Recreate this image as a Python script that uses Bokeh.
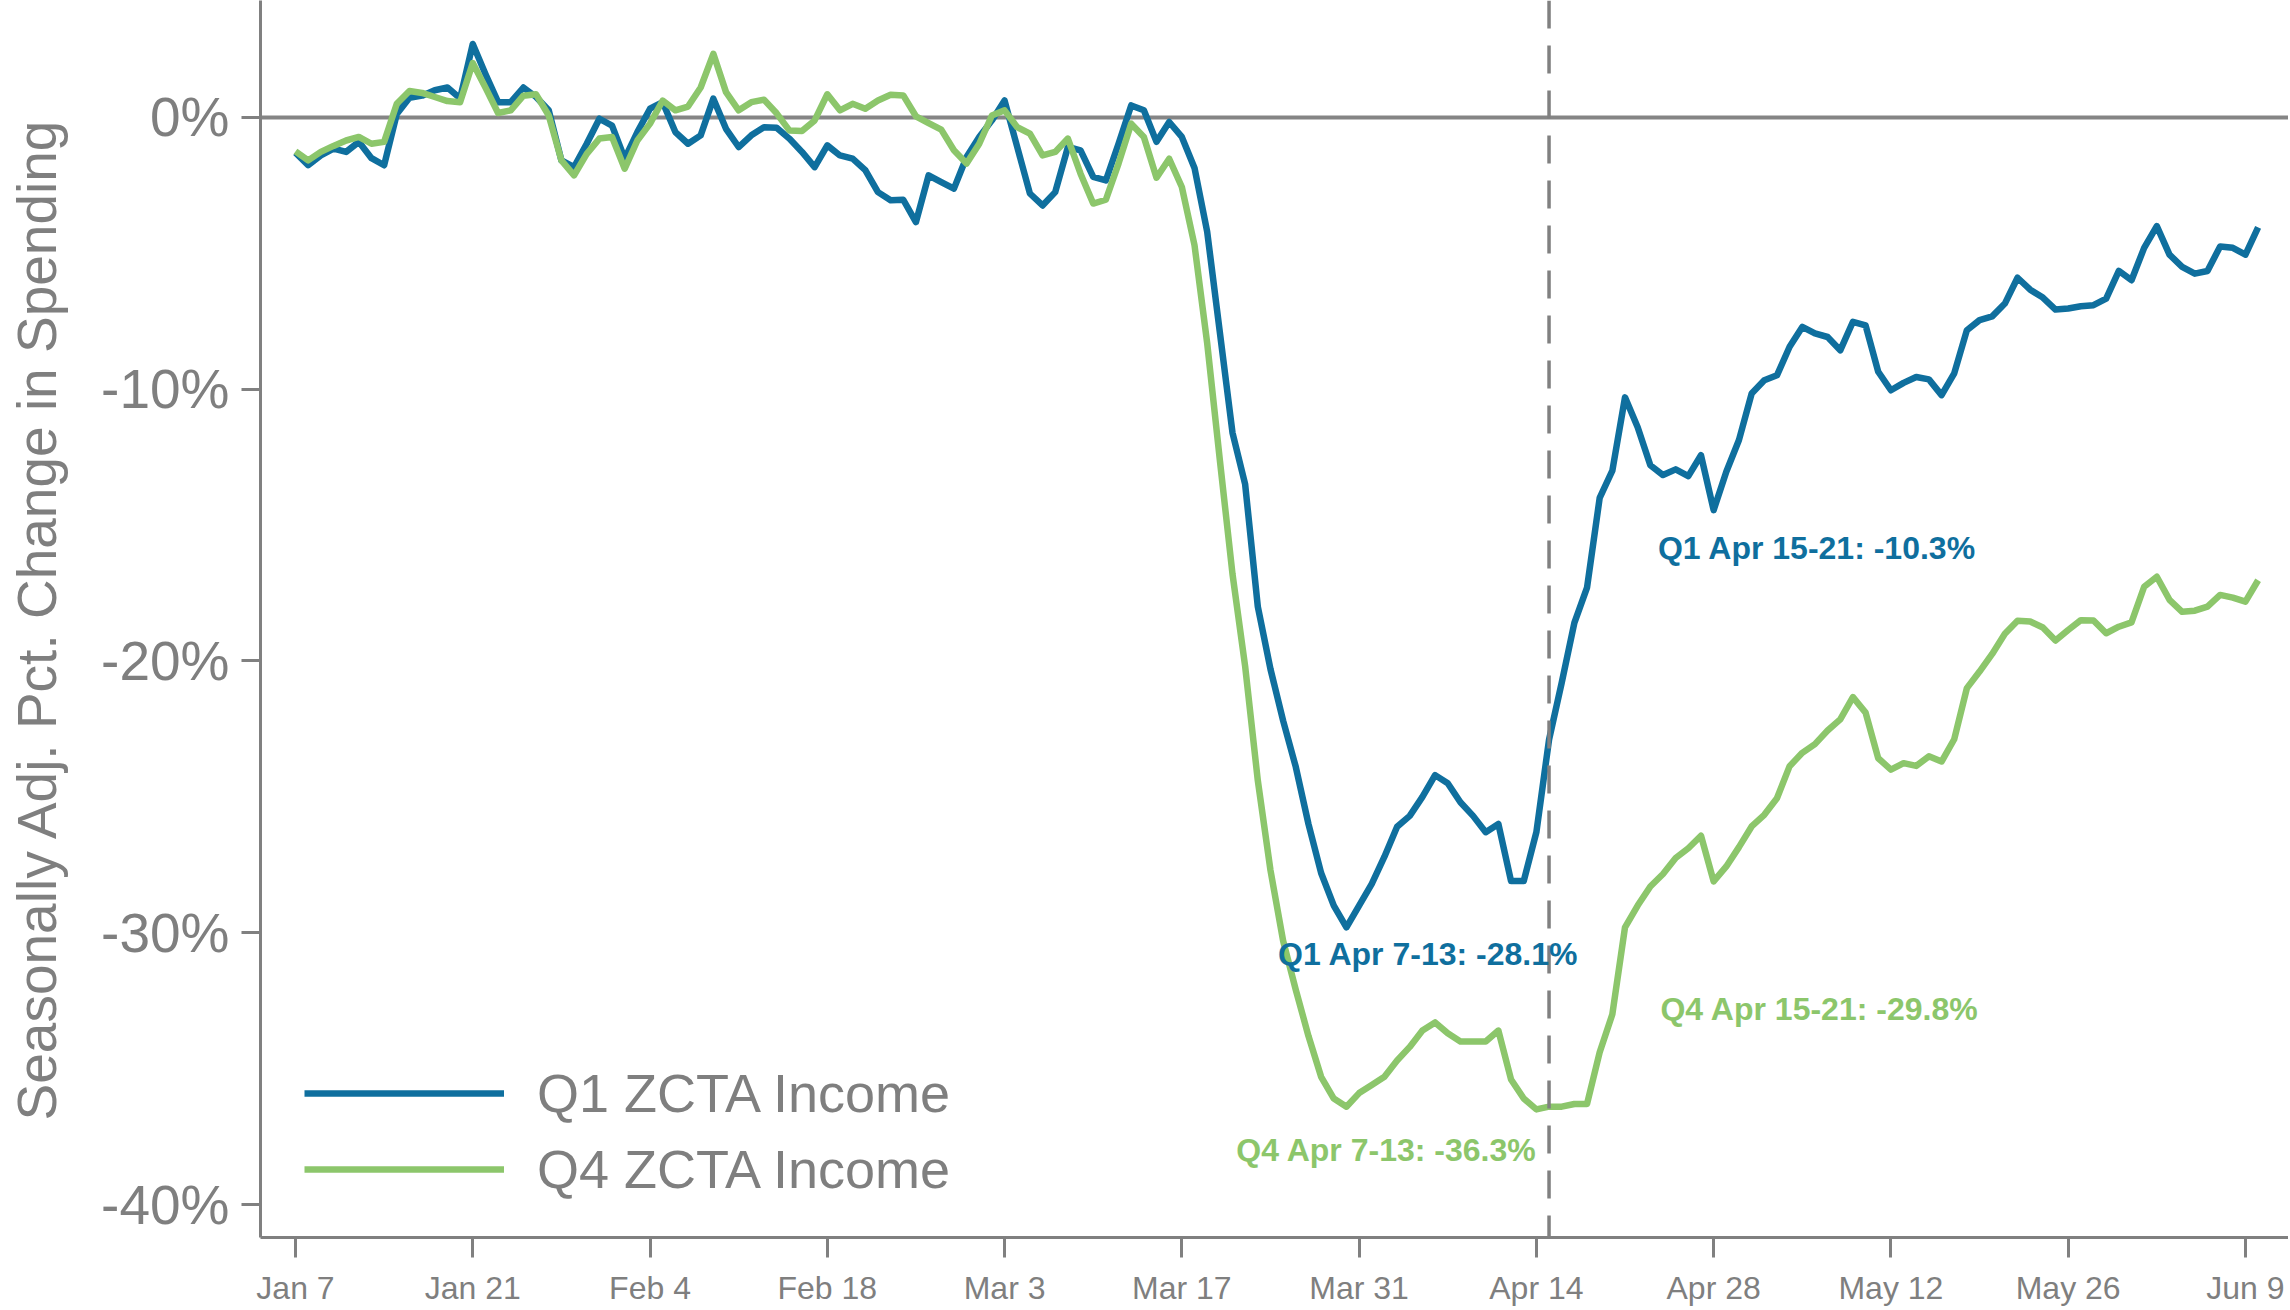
from bokeh.plotting import figure
from bokeh.models import Range1d, Span, Legend, LegendItem, FixedTicker, Label
from bokeh.embed import file_html
from bokeh.resources import INLINE

# Daily series, starting Jan 7 2020 (day 0) through Jun 10 2020
q1_income = [
    -1.3, -1.76, -1.4, -1.15, -1.27, -0.9, -1.5, -1.76, 0.13, 0.72,
    0.8, 1.0, 1.1, 0.7, 2.7, 1.6, 0.56, 0.56, 1.1, 0.75,
    0.26, -1.58, -1.83, -0.97, -0.05, -0.3, -1.52, -0.54, 0.32, 0.56,
    -0.54, -0.97, -0.66, 0.69, -0.42, -1.09, -0.66, -0.36, -0.38, -0.78,
    -1.27, -1.83, -1.03, -1.4, -1.52, -1.94, -2.75, -3.05, -3.03, -3.85,
    -2.13, -2.38, -2.62, -1.46, -0.72, -0.11, 0.62, -1.09, -2.8, -3.24,
    -2.75, -1.09, -1.21, -2.19, -2.32, -0.97, 0.44, 0.26, -0.9, -0.17,
    -0.72, -1.86, -4.2, -7.9, -11.6, -13.5, -18.0, -20.3, -22.2, -23.9,
    -26.0, -27.8, -29.0, -29.8, -29.0, -28.2, -27.2, -26.1, -25.7, -25.0,
    -24.2, -24.5, -25.2, -25.7, -26.3, -26.0, -28.1, -28.1, -26.3, -22.9,
    -20.8, -18.6, -17.3, -14.0, -13.0, -10.3, -11.4, -12.8, -13.16, -12.95,
    -13.2, -12.43, -14.45, -13.04, -11.87, -10.16, -9.67, -9.49, -8.44, -7.71,
    -7.95, -8.08, -8.57, -7.52, -7.65, -9.36, -10.04, -9.77, -9.55, -9.64,
    -10.22, -9.42, -7.83, -7.46, -7.32, -6.85, -5.9, -6.34, -6.63, -7.07,
    -7.03, -6.95, -6.91, -6.67, -5.65, -5.99, -4.8, -4.0, -5.05, -5.5,
    -5.75, -5.65, -4.75, -4.8, -5.05, -4.05,
]
q4_income = [
    -1.25, -1.58, -1.27, -1.05, -0.85, -0.72, -0.97, -0.9, 0.5, 0.97,
    0.9, 0.75, 0.6, 0.56, 2.0, 1.1, 0.16, 0.26, 0.8, 0.85,
    0.07, -1.58, -2.13, -1.34, -0.78, -0.72, -1.89, -0.85, -0.23, 0.62,
    0.26, 0.4, 1.1, 2.34, 0.93, 0.26, 0.56, 0.65, 0.15, -0.48,
    -0.5, -0.11, 0.85, 0.26, 0.5, 0.32, 0.62, 0.83, 0.81, 0.04,
    -0.21, -0.45, -1.21, -1.7, -0.97, 0.07, 0.26, -0.36, -0.6, -1.4,
    -1.27, -0.78, -2.07, -3.17, -3.03, -1.7, -0.23, -0.72, -2.22, -1.52,
    -2.56, -4.7, -8.3, -12.6, -16.8, -20.2, -24.4, -27.7, -30.3, -32.1,
    -33.8, -35.3, -36.1, -36.4, -35.9, -35.6, -35.3, -34.7, -34.2, -33.6,
    -33.3, -33.7, -34.0, -34.0, -34.0, -33.6, -35.4, -36.1, -36.5, -36.4,
    -36.4, -36.3, -36.3, -34.4, -33.0, -29.8, -29.0, -28.3, -27.84, -27.25,
    -26.89, -26.43, -28.11, -27.56, -26.85, -26.09, -25.66, -25.05, -23.87, -23.38,
    -23.06, -22.56, -22.15, -21.33, -21.9, -23.58, -24.0, -23.76, -23.86, -23.51,
    -23.7, -22.88, -21.0, -20.39, -19.74, -19.0, -18.52, -18.55, -18.77, -19.25,
    -18.86, -18.5, -18.51, -18.98, -18.74, -18.58, -17.27, -16.9, -17.75, -18.19,
    -18.15, -18.0, -17.57, -17.67, -17.82, -17.03,
]
days = list(range(len(q1_income)))  # days since Jan 7, 2020

series_names = ["Q1 ZCTA Income", "Q4 ZCTA Income"]
x_tick_days = [0, 14, 28, 42, 56, 70, 84, 98, 112, 126, 140, 154]
x_tick_labels = ["Jan 7", "Jan 21", "Feb 4", "Feb 18", "Mar 3", "Mar 17",
                 "Mar 31", "Apr 14", "Apr 28", "May 12", "May 26", "Jun 9"]
y_ticks = [0, -10, -20, -30, -40]
y_tick_labels = ["0%", "-10%", "-20%", "-30%", "-40%"]
marker_day = 99  # Apr 15
note_texts = ["Q1 Apr 7-13: -28.1%", "Q4 Apr 7-13: -36.3%",
              "Q1 Apr 15-21: -10.3%", "Q4 Apr 15-21: -29.8%"]

# styles / placements
BLUE = "#0f6f9e"
GREEN = "#8cc66b"
GRAY = "#808080"
TEXT = "#7f7f7f"
FONT = "Liberation Sans"
note_pos = [(77.6, -30.8), (74.3, -38.0), (107.6, -15.86), (107.8, -32.8)]
note_colors = [BLUE, GREEN, BLUE, GREEN]

p = figure(width=2288, height=1308,
           x_range=Range1d(-2.764, 157.40), y_range=Range1d(-41.213, 4.301),
           output_backend="svg", toolbar_location=None,
           min_border_left=260, min_border_right=0, min_border_top=0,
           min_border_bottom=70)
p.outline_line_color = None
p.xgrid.grid_line_color = None
p.ygrid.grid_line_color = None
p.background_fill_color = "white"
p.border_fill_color = "white"

zero = Span(location=0, dimension="width", line_color="#858585", line_width=4,
            level="underlay")
p.add_layout(zero)
vline = Span(location=marker_day, dimension="height", line_color=GRAY,
             line_width=3.5, line_dash="28 17")
p.add_layout(vline)

r1 = p.line(days, q1_income, line_color=BLUE, line_width=6.5, line_join="round")
r4 = p.line(days, q4_income, line_color=GREEN, line_width=6.5, line_join="round")

# axes
for ax in (p.xaxis[0], p.yaxis[0]):
    ax.axis_line_color = GRAY
    ax.axis_line_width = 3
    ax.major_tick_line_color = GRAY
    ax.major_tick_line_width = 3
    ax.major_tick_in = 0
    ax.minor_tick_line_color = None
    ax.major_label_text_color = TEXT
    ax.major_label_text_font = FONT

p.xaxis.ticker = FixedTicker(ticks=x_tick_days)
p.xaxis.major_label_overrides = {d: s for d, s in zip(x_tick_days, x_tick_labels)}
p.xaxis.major_tick_out = 20
p.xaxis.major_label_standoff = 12
p.xaxis.major_label_text_font_size = "32px"

p.yaxis.ticker = FixedTicker(ticks=y_ticks)
p.yaxis.major_label_overrides = {v: s for v, s in zip(y_ticks, y_tick_labels)}
p.yaxis.major_tick_out = 19
p.yaxis.major_label_standoff = 12
p.yaxis.major_label_text_font_size = "55px"
p.yaxis.axis_label = "Seasonally Adj. Pct. Change in Spending"
p.yaxis.axis_label_text_font = FONT
p.yaxis.axis_label_text_font_size = "55px"
p.yaxis.axis_label_text_font_style = "normal"
p.yaxis.axis_label_text_color = TEXT
p.yaxis.axis_label_standoff = 30

for txt, (nx, ny), col in zip(note_texts, note_pos, note_colors):
    p.add_layout(Label(x=nx, y=ny, text=txt, text_color=col, text_font=FONT,
                       text_font_size="32px", text_font_style="bold",
                       text_align="left", text_baseline="alphabetic"))

legend = Legend(items=[LegendItem(label=series_names[0], renderers=[r1]),
                       LegendItem(label=series_names[1], renderers=[r4])],
                location=(44, 30), orientation="vertical",
                glyph_width=200, glyph_height=76, label_height=76,
                spacing=0, padding=0, margin=0, label_standoff=33,
                border_line_color=None, background_fill_alpha=0,
                label_text_font=FONT, label_text_font_size="54px",
                label_text_color=TEXT)
p.add_layout(legend)

open("out.html", "w").write(file_html(p, INLINE))
